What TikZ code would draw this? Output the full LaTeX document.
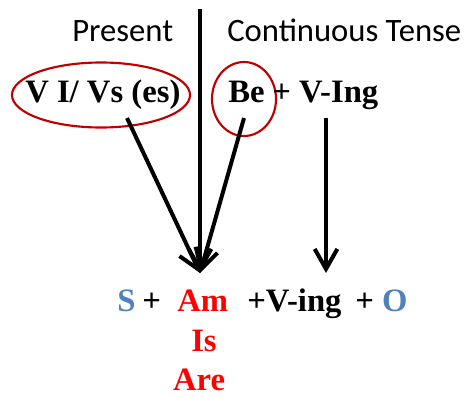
\documentclass[tikz,border=0pt]{standalone}
\usepackage{fontspec}
\setmainfont{Liberation Serif}
\setsansfont{Carlito}
\usetikzlibrary{shapes.geometric,arrows.meta,positioning}
\definecolor{ringred}{RGB}{192,0,0}
\definecolor{subjblue}{RGB}{79,129,189}

\begin{document}
\begin{tikzpicture}[
    x=0.75pt, y=-0.75pt,
    title/.style={font=\sffamily\fontsize{24.5}{29}\selectfont, inner sep=0pt, anchor=base west},
    form/.style={font=\bfseries\fontsize{24.5}{29}\selectfont, inner sep=0pt, anchor=base west},
    ring/.style={ellipse, draw=ringred, line width=1.6pt, inner sep=0pt},
    arrow/.style={-{Straight Barb[length=15pt,width=17pt]}, line width=3pt}
]
\useasboundingbox (0,0) rectangle (467,397);

% headings
\node[title] (present) at (72,41) {Present};
\node[title] (cont) at (227,41) {Continuous Tense};

% pattern line
\node[ring, minimum width=133.5pt, minimum height=48.75pt] (vsring) at (101,95) {};
\node[ring, minimum width=48pt, minimum height=55.5pt] (bering) at (244,99) {};
\node[form] (vs) at (25,102) {V I/ Vs (es)};
\node[form] (be) at (228,102) {Be};
\node[form] (ing) at (272,102) {+ V-Ing};

% formula
\node[form, text=subjblue] (s) at (117,311) {S};
\node[form] (plus) at (142,311) {+};
\node[form, text=red] (am) at (177,311) {Am};
\node[form] (ving) at (247,311) {+V-ing};
\node[form] (o) at (355,311) {+ \textcolor{subjblue}{O}};
\node[form, text=red, anchor=base] (is) at (204,351) {Is};
\node[form, text=red, anchor=base] (are) at (199,390) {Are};

\coordinate (top) at (200,9);
\coordinate (meet) at (200,273);
\coordinate (vsfoot) at (127,118);
\coordinate (befoot) at (244,118);
\coordinate (ingfoot) at (326,118);
\coordinate (vingtop) at (326,273);

\draw[arrow] (top) -- (meet);
\draw[arrow] (vsfoot) -- (meet);
\draw[arrow] (befoot) -- (meet);
\draw[arrow] (ingfoot) -- (vingtop);
\end{tikzpicture}
\end{document}
